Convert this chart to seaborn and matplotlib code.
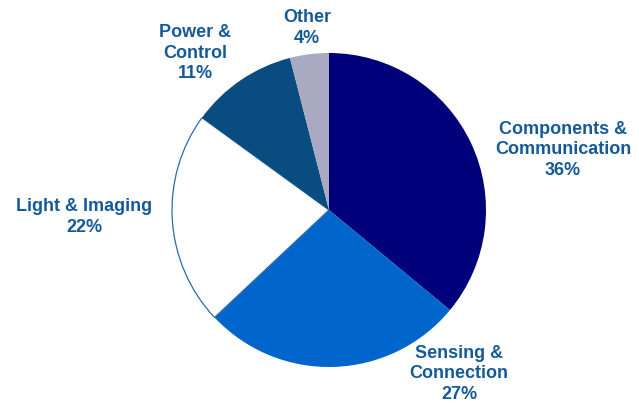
import matplotlib
matplotlib.use("Agg")
import matplotlib.pyplot as plt
import seaborn as sns

sns.set_theme(style="white")
plt.rcParams["font.family"] = ["Liberation Sans", "DejaVu Sans"]

categories = ["Components &\nCommunication", "Sensing &\nConnection", "Light & Imaging",
              "Power &\nControl", "Other"]
shares = [36, 27, 22, 11, 4]
colors = ["#00007A", "#0066CC", "#FFFFFF", "#084C80", "#A9A9C1"]

W, H = 639, 406
fig = plt.figure(figsize=(W / 100, H / 100), dpi=100)
ax = fig.add_axes([0, 0, 1, 1])

cx, cy, r = 329, H - 211, 157
wedges, _ = ax.pie(shares, colors=colors, startangle=90, counterclock=False,
                   center=(cx, cy), radius=r, frame=True,
                   wedgeprops=dict(linewidth=0, antialiased=True))
# thin outline for the white slice
wedges[2].set_edgecolor("#2A6AAE")
wedges[2].set_linewidth(0.9)
ax.set_xlim(0, W)
ax.set_ylim(0, H)
ax.set_aspect("equal")
ax.axis("off")

label_pos = [(563, 150), (459, 374), (84, 217), (195, 53), (307, 28)]
text_color = "#155A98"
for name, val, (x, y) in zip(categories, shares, label_pos):
    ax.text(x, H - y, f"{name}\n{val}%", ha="center", va="center",
            fontsize=13, fontweight="bold", color=text_color, linespacing=1.3)

fig.savefig("out.png", dpi=100)
